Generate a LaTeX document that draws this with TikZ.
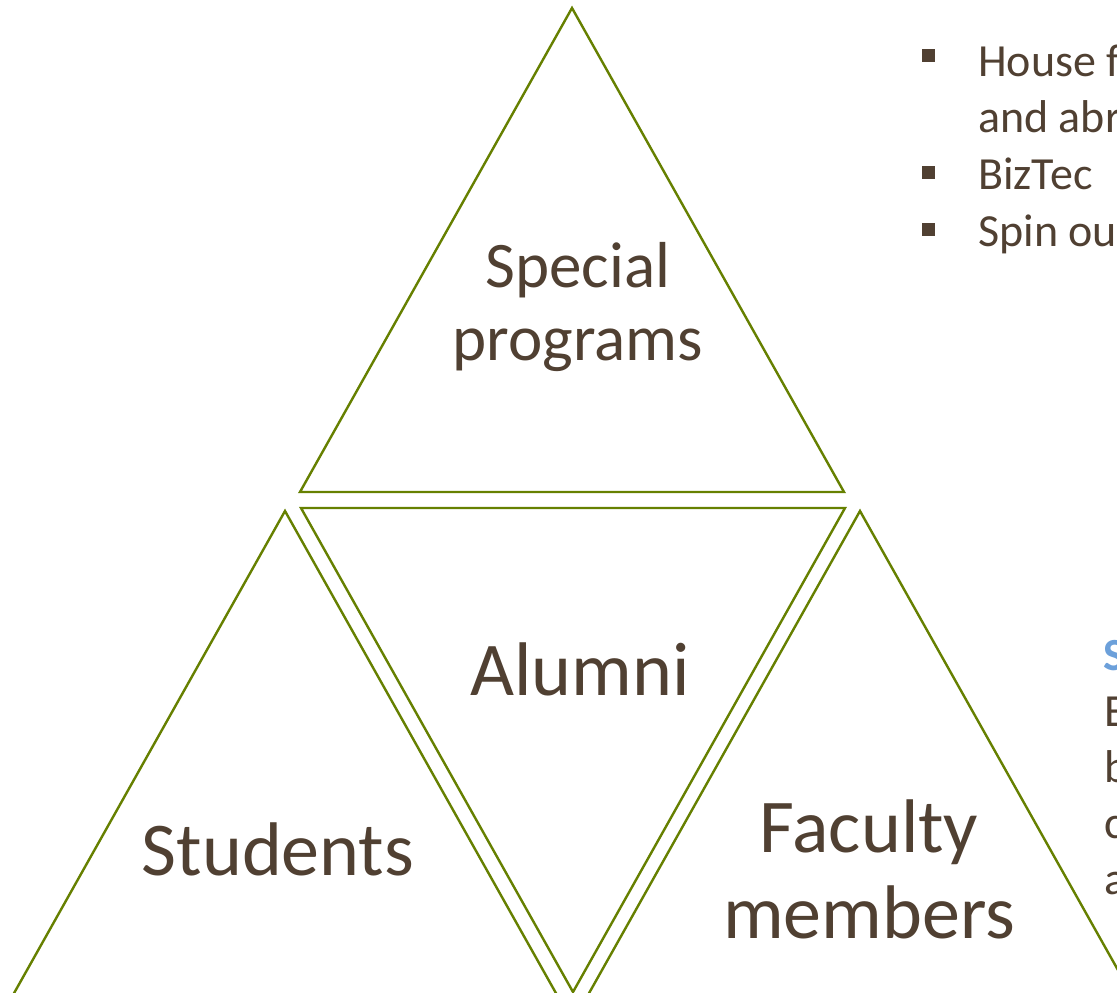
\documentclass[tikz,border=0pt]{standalone}
\usepackage{fontspec}
\setmainfont{Carlito}
\definecolor{olivegrn}{RGB}{102,128,0}
\definecolor{txtbrown}{RGB}{80,64,50}
\definecolor{hdblue}{RGB}{108,160,218}
\tikzset{
  tri/.style={draw=olivegrn, line width=2.4pt, line join=miter},
  lbl/.style={text=txtbrown, align=center, inner sep=0pt},
  itm/.style={text=txtbrown, anchor=base west, inner sep=0pt,
    font=\fontsize{46}{56}\selectfont},
  bul/.style={fill=txtbrown, minimum size=13pt, inner sep=0pt}
}
% triangle pointing up: apex x, apex y
\def\uptri(#1,#2){
  \draw[tri] (#1,#2) -- (#1-272,#2+484) -- (#1+272,#2+484) -- cycle;
}
% triangle pointing down: top centre x, top y
\def\dntri(#1,#2){
  \draw[tri] (#1-272,#2) -- (#1+272,#2) -- (#1,#2+484) -- cycle;
}

\begin{document}
\begin{tikzpicture}[x=1pt, y=-1pt]
\clip (0,0) rectangle (1117,993);
\fill[white] (0,0) rectangle (1117,993);
\uptri(572,8)
\dntri(573,508)
\uptri(285,511)
\uptri(860,511)
\node[lbl, font=\fontsize{65}{73}\selectfont] (spec) at (578,307) {Special\\programs};
\node[lbl, font=\fontsize{76}{86}\selectfont] (alum) at (580,669) {Alumni};
\node[lbl, font=\fontsize{76}{86}\selectfont] (stud) at (278,849) {Students};
\node[lbl, font=\fontsize{76}{86}\selectfont] (facm) at (869,869) {Faculty\\members};
% list at the top right
\node[bul] (b1) at (928,55) {};
\node[bul] (b2) at (928,172) {};
\node[bul] (b3) at (928,229) {};
\node[itm] (l1) at (978,76) {House f};
\node[itm] (l2) at (978,132) {and abr};
\node[itm] (l3) at (978,189) {BizTec};
\node[itm] (l4) at (978,246) {Spin ou};
% text at the lower right
\node[itm, text=hdblue, font=\fontsize{46}{56}\bfseries\selectfont] (h1) at (1103,670) {S};
\node[itm] (t1) at (1104,726) {E};
\node[itm] (t2) at (1104,782) {b};
\node[itm] (t3) at (1104,838) {c};
\node[itm] (t4) at (1104,894) {a};
\end{tikzpicture}
\end{document}
